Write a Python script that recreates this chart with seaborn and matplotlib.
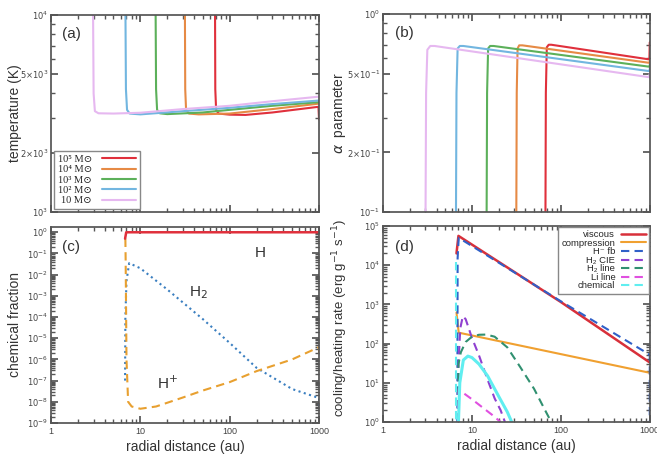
import numpy as np
import pandas as pd
import matplotlib
matplotlib.use("Agg")
import matplotlib.pyplot as plt
import matplotlib.ticker as mticker
import seaborn as sns

# --- DATA ---
MASS_LABELS = ["10⁵ M⊙", "10⁴ M⊙", "10³ M⊙", "10² M⊙", "10 M⊙"]
MASS_COLORS = ["#e0303c", "#e68a45", "#5cb05a", "#72b6e0", "#e6b8f0"]

# panel (a): temperature (K) vs radius (au)
T_R_1e5 = [68.5, 69.0, 70.5, 75, 100, 150, 300, 985, 1000]
T_1e5 = [12000, 4200, 3300, 3160, 3120, 3110, 3200, 3420, 2950]
T_R_1e4 = [31.5, 31.8, 32.5, 35, 45, 100, 300, 1000]
T_1e4 = [12000, 4200, 3300, 3160, 3130, 3160, 3330, 3550]
T_R_1e3 = [14.8, 15.0, 15.4, 16.5, 20, 50, 100, 300, 1000]
T_1e3 = [12000, 4200, 3300, 3170, 3140, 3200, 3300, 3460, 3610]
T_R_1e2 = [6.8, 6.9, 7.1, 7.6, 10, 30, 100, 300, 1000]
T_1e2 = [12000, 4200, 3300, 3160, 3130, 3250, 3380, 3530, 3680]
T_R_1e1 = [2.95, 3.0, 3.1, 3.4, 5, 10, 30, 100, 300, 1000]
T_1e1 = [12000, 4000, 3250, 3170, 3160, 3190, 3330, 3460, 3650, 3850]

# panel (b): alpha parameter vs radius (au)
A_R_1e5 = [67.0, 67.8, 69.5, 73, 78, 990, 1000]
A_1e5 = [0.08, 0.4, 0.68, 0.70, 0.70, 0.59, 0.72]
A_R_1e4 = [31.5, 31.9, 32.6, 34, 37, 990, 1000]
A_1e4 = [0.08, 0.4, 0.67, 0.695, 0.695, 0.567, 0.58]
A_R_1e3 = [14.6, 14.8, 15.2, 16, 17.5, 990, 1000]
A_1e3 = [0.08, 0.4, 0.67, 0.69, 0.69, 0.542, 0.555]
A_R_1e2 = [6.6, 6.7, 6.9, 7.3, 8.0, 990, 1000]
A_1e2 = [0.08, 0.4, 0.67, 0.69, 0.69, 0.515, 0.53]
A_R_1e1 = [3.0, 3.05, 3.15, 3.4, 3.8, 980, 1000]
A_1e1 = [0.08, 0.4, 0.66, 0.69, 0.69, 0.48, 0.50]

# panel (c): chemical fractions
H_R = [6.75, 6.95, 1000]
H_X = [0.5, 1.0, 1.0]
H2_R = [6.75, 6.8, 7.0, 7.5, 10, 20, 50, 100, 200, 500, 1000, 1000]
H2_X = [1e-7, 1e-4, 5e-3, 3.5e-2, 2e-2, 2e-3, 8e-5, 6e-6, 4e-7, 4e-8, 1.5e-8, 5e-9]
HP_R = [6.8, 6.85, 7.0, 7.3, 8, 10, 15, 20, 30, 50, 100, 200, 500, 1000, 1000]
HP_X = [0.5, 0.05, 1e-6, 1.0e-8, 6e-9, 4.7e-9, 6e-9, 9e-9, 1.6e-8, 3.4e-8, 8.5e-8,
        2.8e-7, 1.0e-6, 3.8e-6, 1e-6]

# panel (d): cooling / heating rates (erg g^-1 s^-1)
VISC_R = [6.7, 7.05, 100, 1000]
VISC_Q = [2.0e4, 5.6e4, 1150, 33]
COMP_R = [6.7, 7.1, 1000]
COMP_Q = [620, 190, 18]
HMFB_R = [6.85, 6.9, 7.1, 100, 1000, 1000]
HMFB_Q = [1, 1.5e4, 5.0e4, 1200, 52, 1]
CIE_R = [7.0, 7.05, 7.4, 7.9, 8.5, 10, 12, 15, 18, 21, 23.5]
CIE_Q = [1, 30, 250, 500, 420, 140, 50, 12, 4, 2, 1]
H2L_R = [7.0, 7.05, 7.5, 8.5, 10, 12, 14.5, 18, 25, 35, 50, 65, 78]
H2L_Q = [1, 30, 60, 110, 150, 168, 170, 150, 80, 25, 7, 2.2, 1]
LI_R = [7.0, 7.1, 8, 10, 13, 17, 21]
LI_Q = [1, 7, 5.5, 3.8, 2.4, 1.5, 1.0]
CHEM_R = [6.65, 6.65]
CHEM_Q = [1.2e4, 1]
CHEM2_R = [7.05, 7.3, 8, 9, 10, 12, 15, 20, 25, 28]
CHEM2_Q = [1, 10, 38, 48, 44, 30, 15, 4.5, 1.8, 1]
# --------------------

TRACO = (0, (4, 2.5))

sns.set_theme(style="ticks")
plt.rcParams["font.family"] = ["Liberation Sans", "DejaVu Sans"]
plt.rcParams["axes.edgecolor"] = "#555555"
plt.rcParams["xtick.color"] = "#555555"
plt.rcParams["ytick.color"] = "#555555"

fig = plt.figure(figsize=(6.57, 4.54), dpi=100)
ax_a = fig.add_axes([0.0776, 0.533, 0.408, 0.434])
ax_b = fig.add_axes([0.583, 0.533, 0.406, 0.436])
ax_c = fig.add_axes([0.0776, 0.0683, 0.408, 0.432])
ax_d = fig.add_axes([0.583, 0.0705, 0.406, 0.4317])

X_TICKS = [1, 10, 100, 1000]


def linea(ax, r, v, color, lw=1.5, ls="-", label=None):
    df = pd.DataFrame({"r": r, "v": v})
    sns.lineplot(data=df, x="r", y="v", ax=ax, sort=False, estimator=None,
                 color=color, lw=lw, linestyle=ls, label=label, legend=False)


def formato(ax, ylim, yticks, ylabels):
    ax.set_xscale("log")
    ax.set_yscale("log")
    ax.set_xlim(1, 1000)
    ax.set_ylim(*ylim)
    ax.xaxis.set_major_locator(mticker.FixedLocator(X_TICKS))
    ax.xaxis.set_minor_locator(mticker.LogLocator(base=10, subs=np.arange(2, 10)))
    ax.xaxis.set_minor_formatter(mticker.NullFormatter())
    ax.yaxis.set_major_locator(mticker.FixedLocator(yticks))
    ax.yaxis.set_major_formatter(mticker.FixedFormatter(ylabels))
    ax.yaxis.set_minor_locator(mticker.LogLocator(base=10, subs=np.arange(2, 10)))
    ax.yaxis.set_minor_formatter(mticker.NullFormatter())
    ax.tick_params(which="both", direction="in", top=True, right=True,
                   labelsize=6, labelcolor="#444444", pad=2)
    ax.tick_params(which="major", length=5)
    ax.tick_params(which="minor", length=3)
    ax.tick_params(axis="x", labelsize=6.5, pad=3)
    ax.set_xlabel("")
    ax.set_ylabel("")


# (a) temperature
for r, t, c, lab in zip([T_R_1e5, T_R_1e4, T_R_1e3, T_R_1e2, T_R_1e1],
                        [T_1e5, T_1e4, T_1e3, T_1e2, T_1e1], MASS_COLORS, MASS_LABELS):
    linea(ax_a, r, t, c, lw=1.5, label=lab)
formato(ax_a, (1e3, 1e4), [1e3, 2e3, 5e3, 1e4],
        [r"$10^3$", r"$2{\times}10^3$", r"$5{\times}10^3$", r"$10^4$"])
ax_a.set_xticklabels([])
ax_a.set_ylabel("temperature (K)", fontsize=10, color="#333333")
ax_a.yaxis.set_label_coords(-0.108, 0.5)
handles, labels = ax_a.get_legend_handles_labels()
ax_a.legend(handles, labels, loc="lower left", markerfirst=False, fancybox=False,
            edgecolor="#888888", framealpha=1, handlelength=3.3, labelspacing=0.1,
            borderaxespad=0.3, borderpad=0.35, handletextpad=0.9,
            prop={"family": ["Liberation Serif", "DejaVu Serif", "DejaVu Sans"], "size": 7.5})
ax_a.text(0.078, 0.905, "(a)", transform=ax_a.transAxes, fontsize=11,
          ha="center", va="center", color="#333333")

# (b) alpha parameter
for r, a, c in zip([A_R_1e5, A_R_1e4, A_R_1e3, A_R_1e2, A_R_1e1],
                   [A_1e5, A_1e4, A_1e3, A_1e2, A_1e1], MASS_COLORS):
    linea(ax_b, r, a, c, lw=1.5)
formato(ax_b, (0.1, 1.0), [0.1, 0.2, 0.5, 1.0],
        [r"$10^{-1}$", r"$2{\times}10^{-1}$", r"$5{\times}10^{-1}$", r"$10^0$"])
ax_b.set_xticklabels([])
ax_b.set_ylabel(r"$\alpha$  parameter", fontsize=10, color="#333333")
ax_b.yaxis.set_label_coords(-0.131, 0.5)
ax_b.text(0.08, 0.905, "(b)", transform=ax_b.transAxes, fontsize=11,
          ha="center", va="center", color="#333333")

# (c) chemical fraction
linea(ax_c, H2_R, H2_X, "#3a7fc0", lw=1.5, ls=":")
linea(ax_c, HP_R, HP_X, "#e8a030", lw=1.5, ls=TRACO)
linea(ax_c, H_R, H_X, "#e0303c", lw=1.8)
formato(ax_c, (1e-9, 1.8), [10.0 ** k for k in range(-9, 1)],
        [rf"$10^{{{k}}}$" for k in range(-9, 1)])
ax_c.xaxis.set_major_formatter(mticker.FixedFormatter([str(t) for t in X_TICKS]))
ax_c.set_xlabel("radial distance (au)", fontsize=10, color="#333333")
ax_c.xaxis.set_label_coords(0.5, -0.085)
ax_c.set_ylabel("chemical fraction", fontsize=10, color="#333333")
ax_c.yaxis.set_label_coords(-0.108, 0.5)
ax_c.text(0.075, 0.895, "(c)", transform=ax_c.transAxes, fontsize=11,
          ha="center", va="center", color="#333333")
ax_c.text(0.78, 0.867, "H", transform=ax_c.transAxes, fontsize=11,
          ha="center", va="center", color="#333333")
ax_c.text(0.549, 0.663, r"H$_2$", transform=ax_c.transAxes, fontsize=11,
          ha="center", va="center", color="#333333")
ax_c.text(0.433, 0.204, r"H$^{+}$", transform=ax_c.transAxes, fontsize=11,
          ha="center", va="center", color="#333333")

# (d) cooling / heating rates
linea(ax_d, VISC_R, VISC_Q, "#d8303a", lw=1.8, label="viscous")
linea(ax_d, COMP_R, COMP_Q, "#f0a030", lw=1.5, label="compression")
linea(ax_d, HMFB_R, HMFB_Q, "#3060c8", lw=1.5, ls=TRACO, label="H⁻ fb")
linea(ax_d, CIE_R, CIE_Q, "#9040d0", lw=1.5, ls=TRACO, label="H₂ CIE")
linea(ax_d, H2L_R, H2L_Q, "#309070", lw=1.5, ls=TRACO, label="H₂ line")
linea(ax_d, LI_R, LI_Q, "#e050e0", lw=1.5, ls=TRACO, label="Li line")
linea(ax_d, CHEM_R, CHEM_Q, "#60eef0", lw=1.5, ls=TRACO, label="chemical")
linea(ax_d, CHEM2_R, CHEM2_Q, "#60eef0", lw=2.2)
formato(ax_d, (1, 1e5), [10.0 ** k for k in range(0, 6)],
        [rf"$10^{{{k}}}$" for k in range(0, 6)])
ax_d.xaxis.set_major_formatter(mticker.FixedFormatter([str(t) for t in X_TICKS]))
ax_d.set_xlabel("radial distance (au)", fontsize=10, color="#333333")
ax_d.xaxis.set_label_coords(0.5, -0.085)
ax_d.set_ylabel(r"cooling/heating rate (erg g$^{-1}$ s$^{-1}$)", fontsize=9.5,
                color="#333333")
ax_d.yaxis.set_label_coords(-0.124, 0.53)
handles, labels = ax_d.get_legend_handles_labels()
ax_d.legend(handles, labels, loc="upper right", markerfirst=False, fancybox=False,
            edgecolor="#888888", framealpha=1, fontsize=6.8, handlelength=2.6,
            labelspacing=-0.05, borderaxespad=0.1, borderpad=0.35, handletextpad=0.6)
ax_d.text(0.08, 0.895, "(d)", transform=ax_d.transAxes, fontsize=11,
          ha="center", va="center", color="#333333")

fig.savefig("out.png", dpi=100)
